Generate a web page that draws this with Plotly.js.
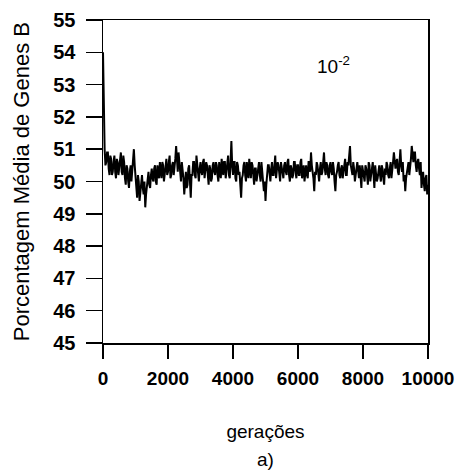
<!DOCTYPE html>
<html>
<head>
<meta charset="utf-8">
<script src="https://cdn.plot.ly/plotly-3.0.1.min.js"></script>
<style>html,body{margin:0;padding:0;background:#fff;}#chart{width:465px;height:475px;}</style>
</head>
<body>
<div id="chart"></div>
<script>
// values at generations 0, 50, 100, ... 10000
const percentB = [
  54.0, 51.0, 50.6, 50.9, 50.2, 50.7, 50.3, 50.8, 50.1, 50.6,
  50.4, 50.9, 50.2, 50.6, 49.9, 50.4, 49.8, 50.5, 50.3, 51.0,
  50.1, 49.5, 50.0, 49.7, 50.2, 49.6, 49.2, 49.9, 50.3, 49.8,
  50.4, 50.0, 50.5, 49.9, 50.3, 50.6, 50.1, 50.5, 50.2, 50.7,
  50.3, 50.8, 50.2, 50.6, 50.4, 51.1, 50.3, 50.6, 50.0, 50.4,
  49.6, 50.3, 49.9, 50.5, 49.5, 50.2, 50.6, 50.1, 50.5, 50.0,
  50.6, 50.2, 50.7, 50.3, 50.5, 49.9, 50.4, 50.1, 50.6, 50.2,
  50.5, 50.0, 50.4, 50.7, 50.2, 50.6, 50.3, 50.8, 50.1, 51.25,
  50.2, 50.6, 50.0, 50.5, 50.3, 49.5, 50.2, 50.6, 50.0, 50.4,
  50.7, 50.1, 50.5, 49.9, 50.4, 50.2, 50.6, 50.0, 50.3, 49.7,
  49.4, 50.2, 50.5, 50.0, 50.6, 50.2, 50.8, 50.3, 50.5, 50.0,
  50.4, 50.1, 50.6, 50.2, 50.7, 50.0, 50.4, 50.2, 50.6, 50.1,
  50.5, 50.2, 50.7, 50.3, 50.0, 50.5, 50.1, 50.6, 50.9, 50.3,
  49.7, 50.2, 50.5, 50.0, 50.6, 50.3, 50.9, 50.2, 50.5, 50.1,
  50.6, 50.2, 50.4, 49.7, 50.3, 50.6, 50.1, 50.5, 50.3, 50.7,
  50.2, 50.5, 51.1, 50.3, 50.6, 50.0, 50.4, 50.2, 50.5, 49.8,
  50.3, 50.0, 50.4, 49.9, 50.5, 50.2, 50.6, 49.8, 50.3, 50.1,
  50.5, 50.0, 50.4, 49.9, 50.2, 50.5, 50.1, 50.6, 50.3, 50.9,
  50.4, 50.7, 50.2, 51.0, 50.3, 50.0, 49.7, 50.3, 50.6, 50.4,
  51.1, 50.6, 50.9, 50.3, 50.7, 50.2, 49.8, 50.3, 49.7, 50.2,
  49.9
];
// values at generations 25, 75, 125, ... 9975
const percentBMid = [
  52.0, 50.5, 50.9, 50.4, 50.8, 50.2, 50.6, 50.3, 50.7, 50.2,
  50.7, 50.3, 50.8, 50.1, 50.5, 50.0, 50.3, 50.0, 50.8, 50.5,
  49.7, 50.2, 49.4, 50.1, 49.8, 50.0, 49.6, 50.2, 49.9, 50.2,
  50.1, 50.4, 50.0, 50.5, 50.1, 50.3, 50.6, 50.0, 50.5, 50.2,
  50.6, 50.1, 50.5, 50.2, 50.7, 50.5, 50.9, 50.2, 50.6, 50.1,
  50.1, 49.8, 50.4, 50.0, 50.2, 50.6, 50.2, 50.8, 50.2, 50.4,
  50.3, 50.6, 50.1, 50.6, 50.2, 50.5, 50.0, 50.5, 50.3, 50.6,
  50.2, 50.6, 50.1, 50.3, 50.6, 50.1, 50.5, 50.2, 50.6, 50.5,
  50.6, 50.1, 50.6, 50.2, 49.9, 50.1, 50.5, 50.2, 50.6, 50.1,
  50.3, 50.6, 50.2, 50.4, 50.0, 50.5, 50.2, 50.6, 50.1, 50.0,
  49.9, 50.5, 50.1, 50.4, 50.2, 50.5, 50.1, 50.6, 50.2, 50.6,
  50.2, 50.5, 50.3, 50.6, 50.2, 50.5, 50.1, 50.6, 50.3, 50.5,
  50.2, 50.6, 50.1, 50.5, 50.3, 50.2, 50.6, 50.3, 50.5, 50.1,
  50.3, 50.6, 50.1, 50.4, 50.2, 50.6, 50.4, 50.6, 50.2, 50.5,
  50.3, 50.6, 50.0, 50.2, 50.5, 50.2, 50.4, 50.1, 50.6, 50.2,
  50.6, 50.8, 50.5, 50.2, 50.4, 50.3, 50.6, 50.1, 50.2, 50.5,
  50.1, 50.5, 50.2, 50.6, 50.0, 50.4, 50.2, 50.5, 50.0, 50.4,
  50.2, 50.5, 50.1, 50.4, 50.6, 50.2, 50.4, 50.1, 50.6, 50.5,
  50.6, 50.3, 50.6, 50.5, 50.6, 50.2, 50.1, 50.5, 50.2, 50.7,
  50.7, 50.9, 50.5, 50.6, 50.4, 50.6, 50.1, 49.9, 50.1, 49.6
];
const genStep = 50;
const xTicks = [0, 2000, 4000, 6000, 8000, 10000];
const yTicks = [45, 46, 47, 48, 49, 50, 51, 52, 53, 54, 55];
const yTitle = "Porcentagem Média de Genes B";
const xTitle = "gerações";
const rateLabel = "10<sup>-2</sup>";
const panelLabel = "a)";

// merge the two hand-read series into one time-ordered series
const generations = [];
const values = [];
percentB.forEach((v, i) => {
  generations.push(i * genStep); values.push(v);
  if (i < percentBMid.length) {
    generations.push(i * genStep + genStep / 2); values.push(percentBMid[i]);
  }
});

const FONT = "Liberation Sans, Arial, Helvetica, sans-serif";

const trace = {
  x: generations,
  y: values,
  type: "scatter",
  mode: "lines",
  line: {color: "#000", width: 2},
  hoverinfo: "skip"
};

const layout = {
  width: 465,
  height: 475,
  margin: {l: 103, r: 37, t: 20, b: 132},
  paper_bgcolor: "#fff",
  plot_bgcolor: "#fff",
  showlegend: false,
  font: {family: FONT, color: "#000"},
  xaxis: {
    range: [0, 10000],
    tickvals: xTicks,
    ticktext: xTicks.map(String),
    ticks: "outside",
    ticklen: 14,
    tickwidth: 1.5,
    tickcolor: "#000",
    ticklabelstandoff: 4,
    showline: true,
    linecolor: "#000",
    linewidth: 1.5,
    mirror: true,
    showgrid: false,
    zeroline: false,
    tickfont: {size: 19, weight: "bold", family: FONT},
    title: {text: xTitle, font: {size: 19, family: FONT}, standoff: 36}
  },
  yaxis: {
    range: [45, 55],
    tickvals: yTicks,
    ticktext: yTicks.map(String),
    ticks: "outside",
    ticklen: 16,
    tickwidth: 1.5,
    tickcolor: "#000",
    ticklabelstandoff: 6,
    showline: true,
    linecolor: "#000",
    linewidth: 1.5,
    mirror: true,
    showgrid: false,
    zeroline: false,
    tickfont: {size: 20, weight: "bold", family: FONT}
  },
  annotations: [
    {text: yTitle, xref: "paper", yref: "paper", x: -0.25, y: 0.5, textangle: -90,
     showarrow: false, font: {size: 22, family: FONT}, xanchor: "center", yanchor: "middle"},
    {text: rateLabel, xref: "paper", yref: "paper", x: 0.71, y: 0.86,
     showarrow: false, font: {size: 19, family: FONT}, xanchor: "center", yanchor: "middle"},
    {text: panelLabel, xref: "paper", yref: "paper", x: 0.5, y: -0.36,
     showarrow: false, font: {size: 19, family: FONT}, xanchor: "center", yanchor: "middle"}
  ]
};

Plotly.newPlot("chart", [trace], layout, {displayModeBar: false, staticPlot: true});
</script>
</body>
</html>
